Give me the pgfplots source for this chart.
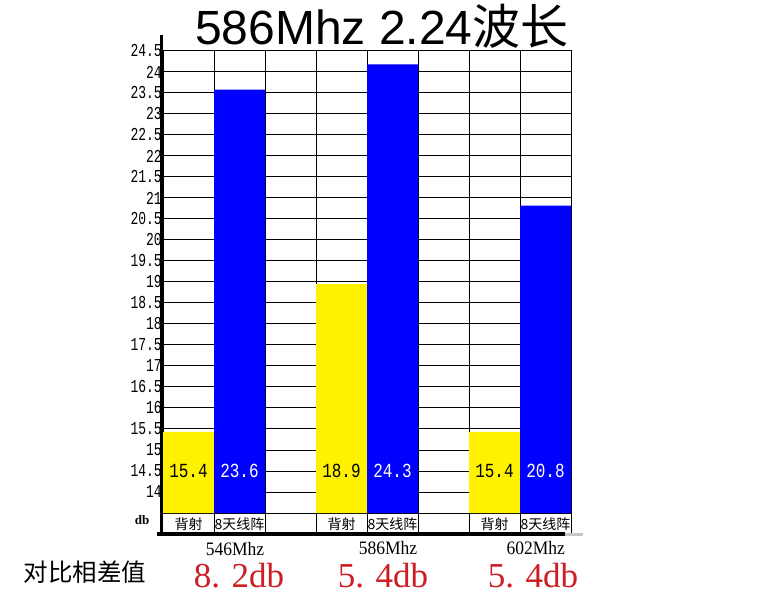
\documentclass[border=0pt]{standalone}
\usepackage{pgfplots}
\pgfplotsset{compat=1.18}
\usepackage{fontspec}
\setmainfont{Liberation Serif}
\newfontfamily\mono{Liberation Mono}
\newfontfamily\sans{Liberation Sans}
\newfontfamily\cjk{Noto Sans CJK SC}
\definecolor{dred}{RGB}{205,30,35}
\begin{document}
\begin{tikzpicture}
\fill[white] (0,0) rectangle (768pt,600pt);
\path[use as bounding box] (0,0) rectangle (768pt,600pt);
\begin{axis}[
  at={(163pt,87pt)}, anchor=south west,
  scale only axis, width=408pt, height=462pt,
  xmin=0, xmax=8, ymin=13.5, ymax=24.5,
  clip mode=individual,
  xtick={1,2,3,4,5,6,7}, xticklabels={},
  ytick={14,14.5,...,24.5},
  /pgf/number format/assume math mode=true,
  yticklabel style={font=\mono\fontsize{13}{13}\selectfont, yscale=1.4, inner sep=1pt},
  major tick length=0pt,
  xmajorgrids, ymajorgrids,
  grid style={black, line width=1pt},
  axis line style={black, line width=1pt},
  ybar, bar width=1, bar shift=0pt,
]
\addplot[fill=yellow, draw=none] coordinates {(0.5,15.43) (3.5,18.95) (6.5,15.43)};
\addplot[fill=blue, draw=none] coordinates {(1.5,23.58) (4.5,24.18) (7.5,20.82)};
\addplot[draw=none, mark=none, nodes near coords, point meta=explicit symbolic,
  every node near coord/.style={anchor=center, font=\mono\fontsize{16}{16}\selectfont, yscale=1.25, text=black}]
  coordinates {(0.5,14.5)[15.4] (3.5,14.5)[18.9] (6.5,14.5)[15.4]};
\addplot[draw=none, mark=none, nodes near coords, point meta=explicit symbolic,
  every node near coord/.style={anchor=center, font=\mono\fontsize{16}{16}\selectfont, yscale=1.25, text=white}]
  coordinates {(1.5,14.5)[23.6] (4.5,14.5)[24.3] (7.5,14.5)[20.8]};
% label row
\pgfplotsinvokeforeach{1,2,3,4,5,6,7,8}{\draw[line width=1pt] (axis cs:#1,13) -- (axis cs:#1,13.5);}
\pgfplotsinvokeforeach{0.5,3.5,6.5}{\node[font=\cjk\fontsize{14}{14}\selectfont] at (axis cs:#1,13.23) {背射};}
\pgfplotsinvokeforeach{1.5,4.5,7.5}{\node[font=\cjk\fontsize{14}{14}\selectfont, inner sep=0pt] at (axis cs:#1,13.23) {8天线阵};}
\node[font=\bfseries\fontsize{13}{13}\selectfont] at (axis cs:-0.41,13.33) {db};
\draw[line width=3pt] (axis cs:-0.03,12.97) -- (axis cs:-0.03,24.88);
\draw[line width=3.5pt] (axis cs:-0.12,13) -- (axis cs:7.88,13);
\draw[line width=3pt, gray!45] (axis cs:7.88,13) -- (axis cs:8.24,13);
% category labels
\node[font=\fontsize{19}{19}\selectfont, xscale=0.92] at (axis cs:1.41,12.64) {546Mhz};
\node[font=\fontsize{19}{19}\selectfont, xscale=0.92] at (axis cs:4.41,12.66) {586Mhz};
\node[font=\fontsize{19}{19}\selectfont, xscale=0.92] at (axis cs:7.31,12.66) {602Mhz};
\end{axis}
\node[anchor=base, font=\sans\fontsize{48}{48}\selectfont] at (382pt,555pt) {586Mhz 2.24{\cjk 波长}};
\node[font=\cjk\fontsize{24.5}{24.5}\selectfont] at (85pt,28pt) {对比相差值};
\node[font=\fontsize{35}{35}\selectfont, text=dred] at (239pt,24.5pt) {8. 2db};
\node[font=\fontsize{35}{35}\selectfont, text=dred] at (383pt,24.5pt) {5. 4db};
\node[font=\fontsize{35}{35}\selectfont, text=dred] at (533pt,24.5pt) {5. 4db};
\end{tikzpicture}
\end{document}
